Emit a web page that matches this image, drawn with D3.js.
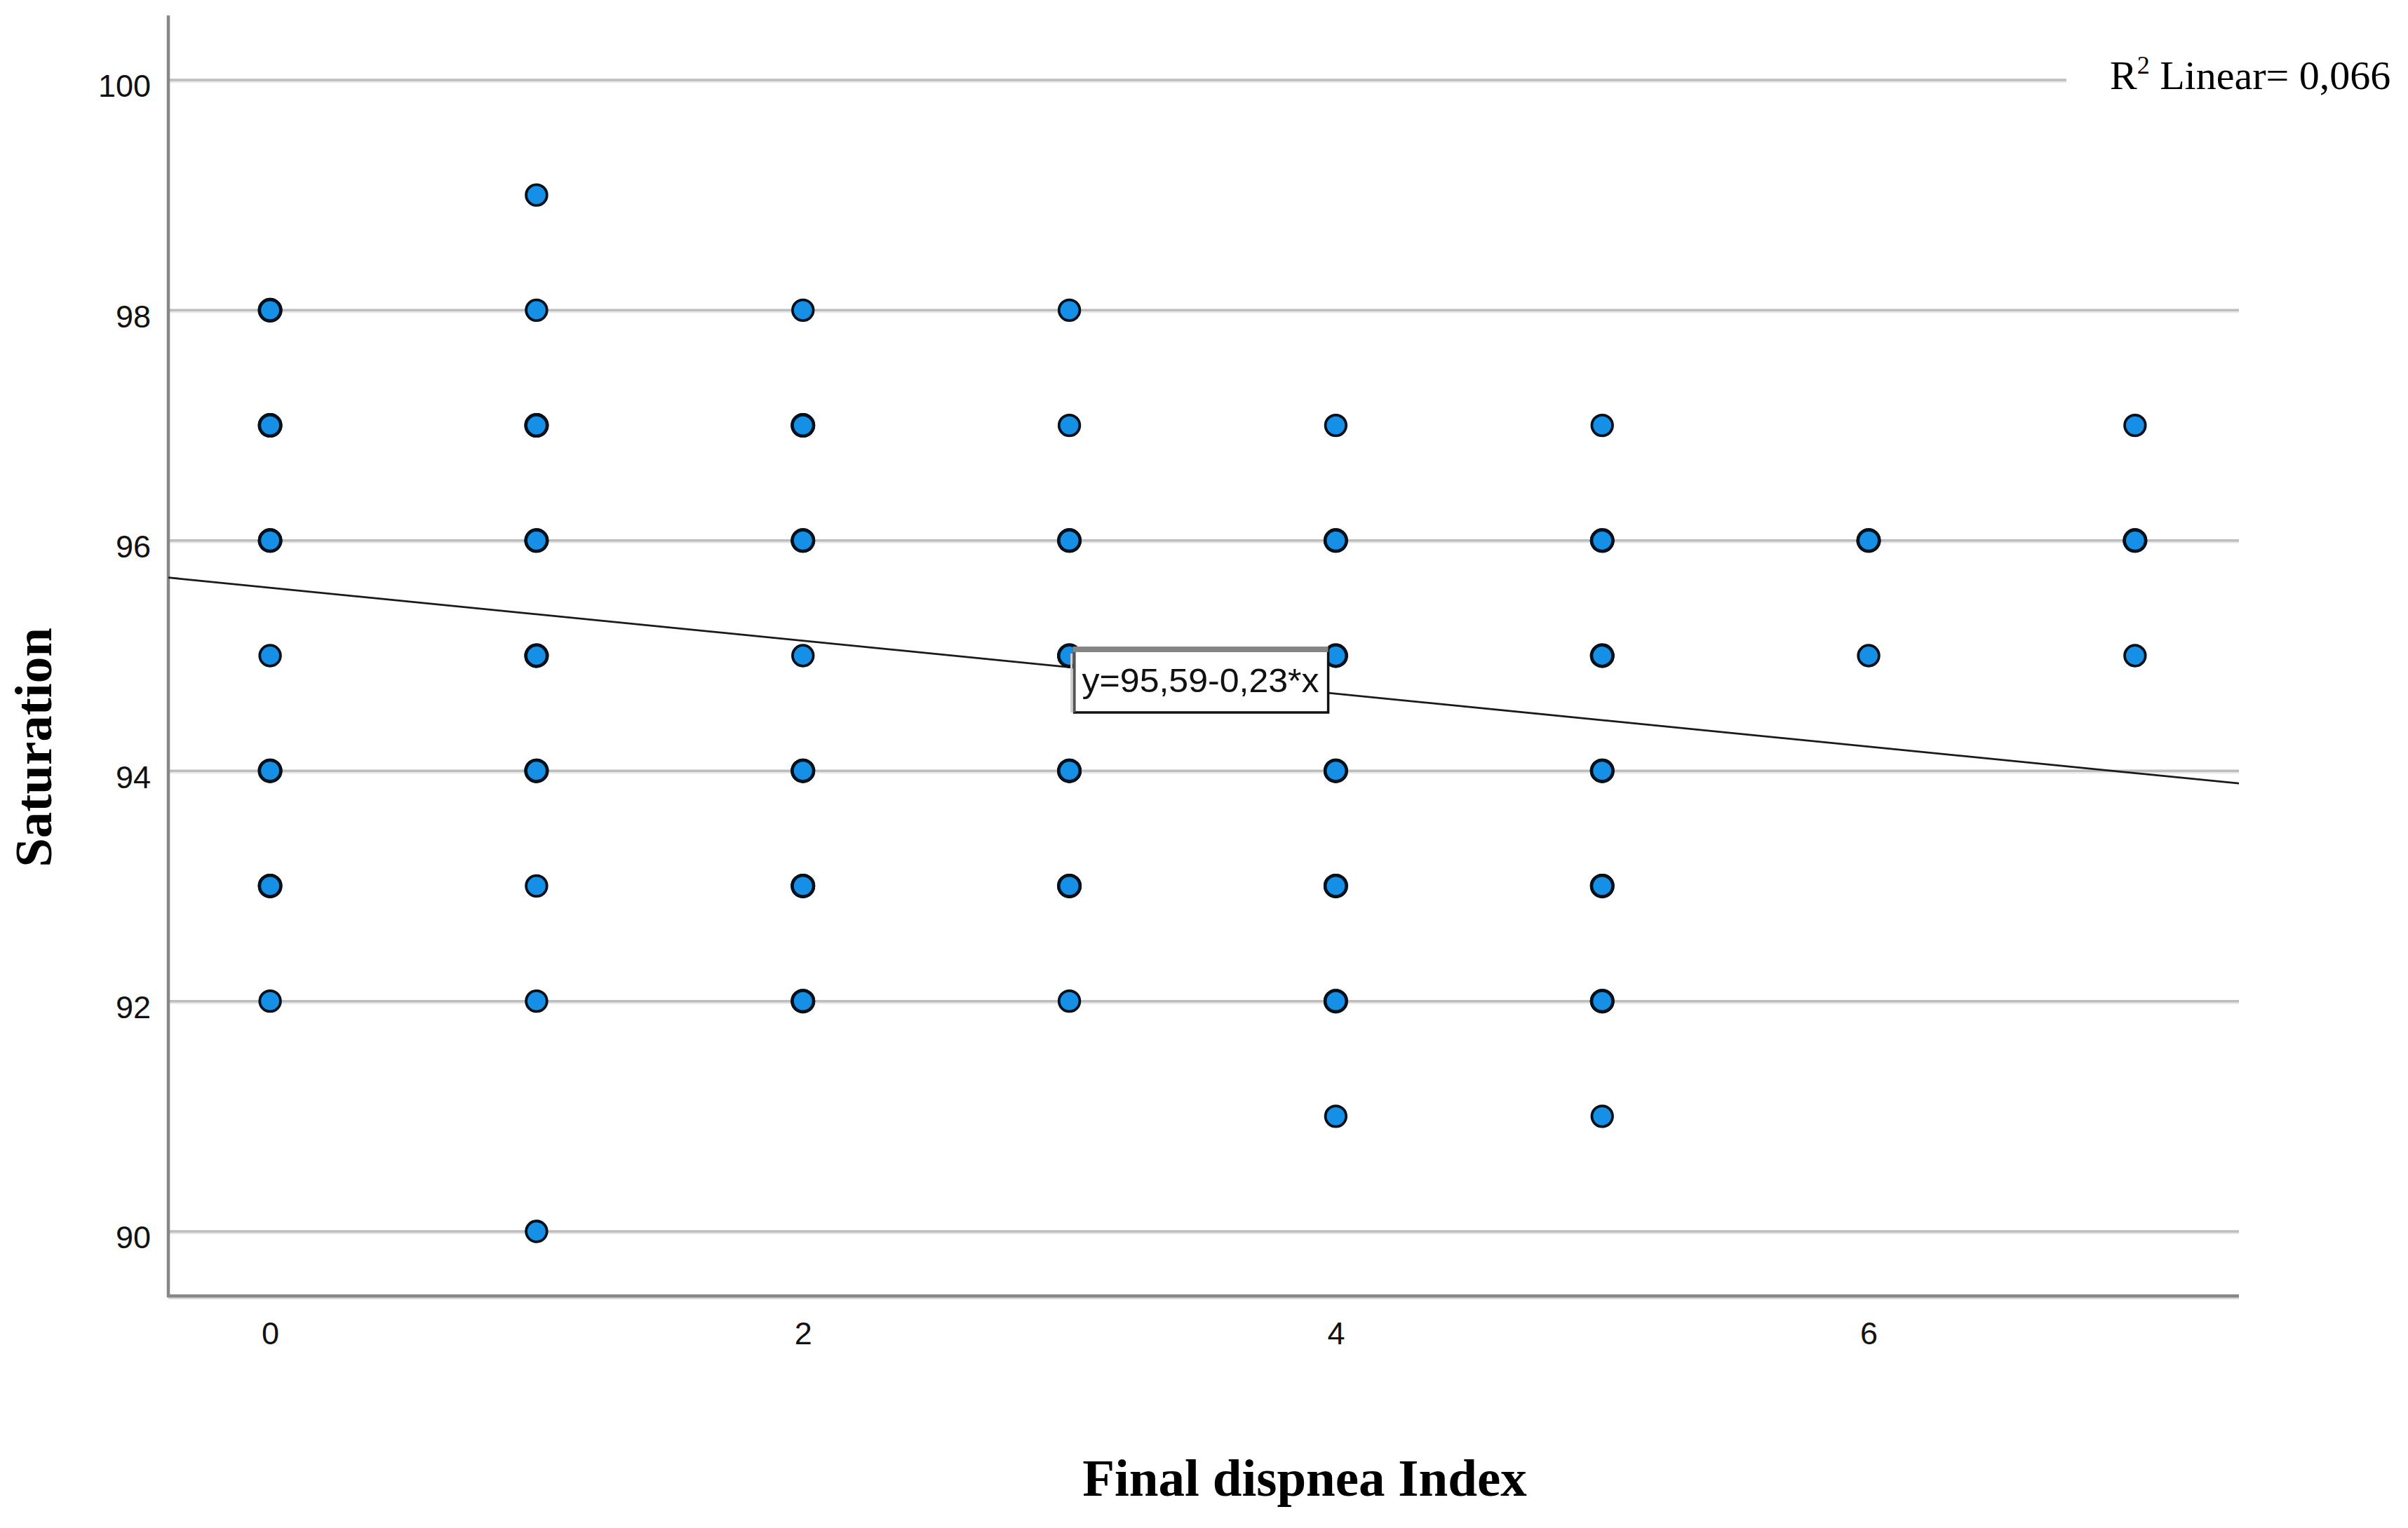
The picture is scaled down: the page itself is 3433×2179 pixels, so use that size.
<!DOCTYPE html>
<html>
<head>
<meta charset="utf-8">
<script src="https://cdn.jsdelivr.net/npm/d3@7"></script>
<style>
  html, body { margin: 0; padding: 0; background: #ffffff; }
  svg { display: block; }
</style>
</head>
<body>
<svg id="chart" width="3433" height="2179"></svg>
<script>
// ---------------- data ----------------
const dyspneaIndex = [
  0,0,0,0,0,0,0,
  1,1,1,1,1,1,1,1,1,
  2,2,2,2,2,2,2,
  3,3,3,3,3,3,3,
  4,4,4,4,4,4,4,
  5,5,5,5,5,5,5,
  6,6,
  7,7,7
];
const saturation = [
  98,97,96,95,94,93,92,
  99,98,97,96,95,94,93,92,90,
  98,97,96,95,94,93,92,
  98,97,96,95,94,93,92,
  97,96,95,94,93,92,91,
  97,96,95,94,93,92,91,
  96,95,
  97,96,95
];
// estimated number of overlapping cases per plotted position (darker rims = more)
const overlapCount = [
  2,2,2,1,2,2,1,
  1,1,2,2,2,2,1,1,1,
  1,2,2,1,2,2,2,
  1,1,2,2,2,2,1,
  1,2,2,2,2,2,1,
  1,2,2,2,2,2,1,
  2,1,
  1,2,1
];
const xTicks = [0, 2, 4, 6];
const yTicks = [90, 92, 94, 96, 98, 100];
const fitIntercept = 95.59;
const fitSlope = -0.23;
const fitLabel = "y=95,59-0,23*x";
const fitLabelAnchor = [3, 95];
const r2Text = " Linear= 0,066";
const xTitle = "Final dispnea Index";
const yTitle = "Saturation";

// ---------------- layout ----------------
const svg = d3.select("#chart");
const plot = { left: 240, right: 3192, top: 22, bottom: 1848 };

const x = d3.scaleLinear().domain([-0.382, 7.39]).range([plot.left, plot.right]);
const y = d3.scaleLinear().domain([89.44, 100.56]).range([plot.bottom, plot.top]);

const sans = "'Liberation Sans', Arial, 'DejaVu Sans', sans-serif";
const serif = "'Liberation Serif', 'Times New Roman', serif";

svg.append("defs").append("clipPath").attr("id", "plotClip")
  .append("rect")
  .attr("x", plot.left).attr("y", plot.top)
  .attr("width", plot.right - plot.left).attr("height", plot.bottom - plot.top);

// gridlines
const legendStart = 2946;
const grid = svg.append("g");
grid.selectAll("line.g2")
  .data(yTicks)
  .join("line")
  .attr("x1", plot.left)
  .attr("x2", d => d === 100 ? legendStart : plot.right)
  .attr("y1", d => y(d) + 2).attr("y2", d => y(d) + 2)
  .attr("stroke", "#e8e8e8").attr("stroke-width", 4);
grid.selectAll("line.g1")
  .data(yTicks)
  .join("line")
  .attr("x1", plot.left)
  .attr("x2", d => d === 100 ? legendStart : plot.right)
  .attr("y1", d => y(d)).attr("y2", d => y(d))
  .attr("stroke", "#bdbdbd").attr("stroke-width", 3.5);

// axes (labels via d3 axes)
const yAxis = svg.append("g")
  .attr("transform", `translate(${plot.left},0)`)
  .call(d3.axisLeft(y).tickValues(yTicks).tickSize(0).tickPadding(25).tickFormat(d3.format("d")));
yAxis.select(".domain").remove();
yAxis.selectAll("text")
  .attr("dy", "0.53em")
  .style("font-family", sans).style("font-size", "45px").attr("fill", "#111");

const xAxis = svg.append("g")
  .attr("transform", `translate(0,${plot.bottom})`)
  .call(d3.axisBottom(x).tickValues(xTicks).tickSize(0).tickPadding(37).tickFormat(d3.format("d")));
xAxis.select(".domain").remove();
xAxis.selectAll("text")
  .style("font-family", sans).style("font-size", "45px").attr("fill", "#111");

// axis lines
svg.append("line")
  .attr("x1", plot.left).attr("x2", plot.right)
  .attr("y1", plot.bottom + 3).attr("y2", plot.bottom + 3)
  .attr("stroke", "#d0d0d0").attr("stroke-width", 3);
svg.append("line")
  .attr("x1", plot.left - 2).attr("x2", plot.right)
  .attr("y1", plot.bottom).attr("y2", plot.bottom)
  .attr("stroke", "#878787").attr("stroke-width", 4.5);
svg.append("line")
  .attr("x1", plot.left).attr("x2", plot.left)
  .attr("y1", plot.top).attr("y2", plot.bottom + 2)
  .attr("stroke", "#878787").attr("stroke-width", 4.5);

// regression line
const xd = x.domain();
svg.append("path")
  .attr("clip-path", "url(#plotClip)")
  .datum(xd.map(v => [v, fitIntercept + fitSlope * v]))
  .attr("d", d3.line().x(d => x(d[0])).y(d => y(d[1])))
  .attr("fill", "none").attr("stroke", "#1a1a1a").attr("stroke-width", 2.8);

// points (overlapping cases drawn on top of one another)
const pts = [];
dyspneaIndex.forEach((xv, i) => {
  for (let k = 0; k < overlapCount[i]; k++) pts.push({ x: xv, y: saturation[i], n: overlapCount[i] });
});
svg.append("g").selectAll("circle")
  .data(pts)
  .join("circle")
  .attr("cx", d => x(d.x)).attr("cy", d => y(d.y))
  .attr("r", d => d.n > 1 ? 15.2 : 14.8)
  .attr("fill", "#1690e6")
  .attr("stroke", "#04101a")
  .attr("stroke-width", d => d.n > 1 ? 4.6 : 3.8);

// fit equation label box
const bx = x(fitLabelAnchor[0]) + 7, by = y(fitLabelAnchor[1]) - 11;
const bw = 362, bh = 92;
const lab = svg.append("g");
lab.append("rect")
  .attr("x", bx).attr("y", by).attr("width", bw).attr("height", bh)
  .attr("fill", "#ffffff").attr("stroke", "#111").attr("stroke-width", 3.5);
lab.append("line")
  .attr("x1", bx - 4).attr("x2", bx - 4).attr("y1", by + 8).attr("y2", by + bh)
  .attr("stroke", "#cfcfcf").attr("stroke-width", 3);
lab.append("line")
  .attr("x1", bx).attr("x2", bx).attr("y1", by).attr("y2", by + bh)
  .attr("stroke", "#555").attr("stroke-width", 3.5);
lab.append("rect")
  .attr("x", bx - 2).attr("y", by - 2).attr("width", bw + 2).attr("height", 8)
  .attr("fill", "#858585");
lab.append("text")
  .attr("x", bx + 11).attr("y", by + 63)
  .attr("textLength", 338).attr("lengthAdjust", "spacingAndGlyphs")
  .style("font-family", sans).style("font-size", "49px").attr("fill", "#111")
  .text(fitLabel);

// R² legend text
const leg = svg.append("text")
  .attr("x", 3008).attr("y", 127)
  .style("font-family", serif).style("font-size", "58px").attr("fill", "#000");
leg.append("tspan").text("R");
leg.append("tspan").attr("dy", -22).style("font-size", "36px").text("2");
leg.append("tspan").attr("dy", 22).text(r2Text);

// axis titles
svg.append("text")
  .attr("x", (plot.left + plot.right) / 2 + 144).attr("y", 2133)
  .attr("text-anchor", "middle")
  .style("font-family", serif).style("font-size", "75px").style("font-weight", "bold")
  .attr("fill", "#000")
  .text(xTitle);
svg.append("text")
  .attr("transform", "translate(73,1066) rotate(-90)")
  .attr("text-anchor", "middle")
  .style("font-family", serif).style("font-size", "75px").style("font-weight", "bold")
  .attr("fill", "#000")
  .text(yTitle);
</script>
</body>
</html>
